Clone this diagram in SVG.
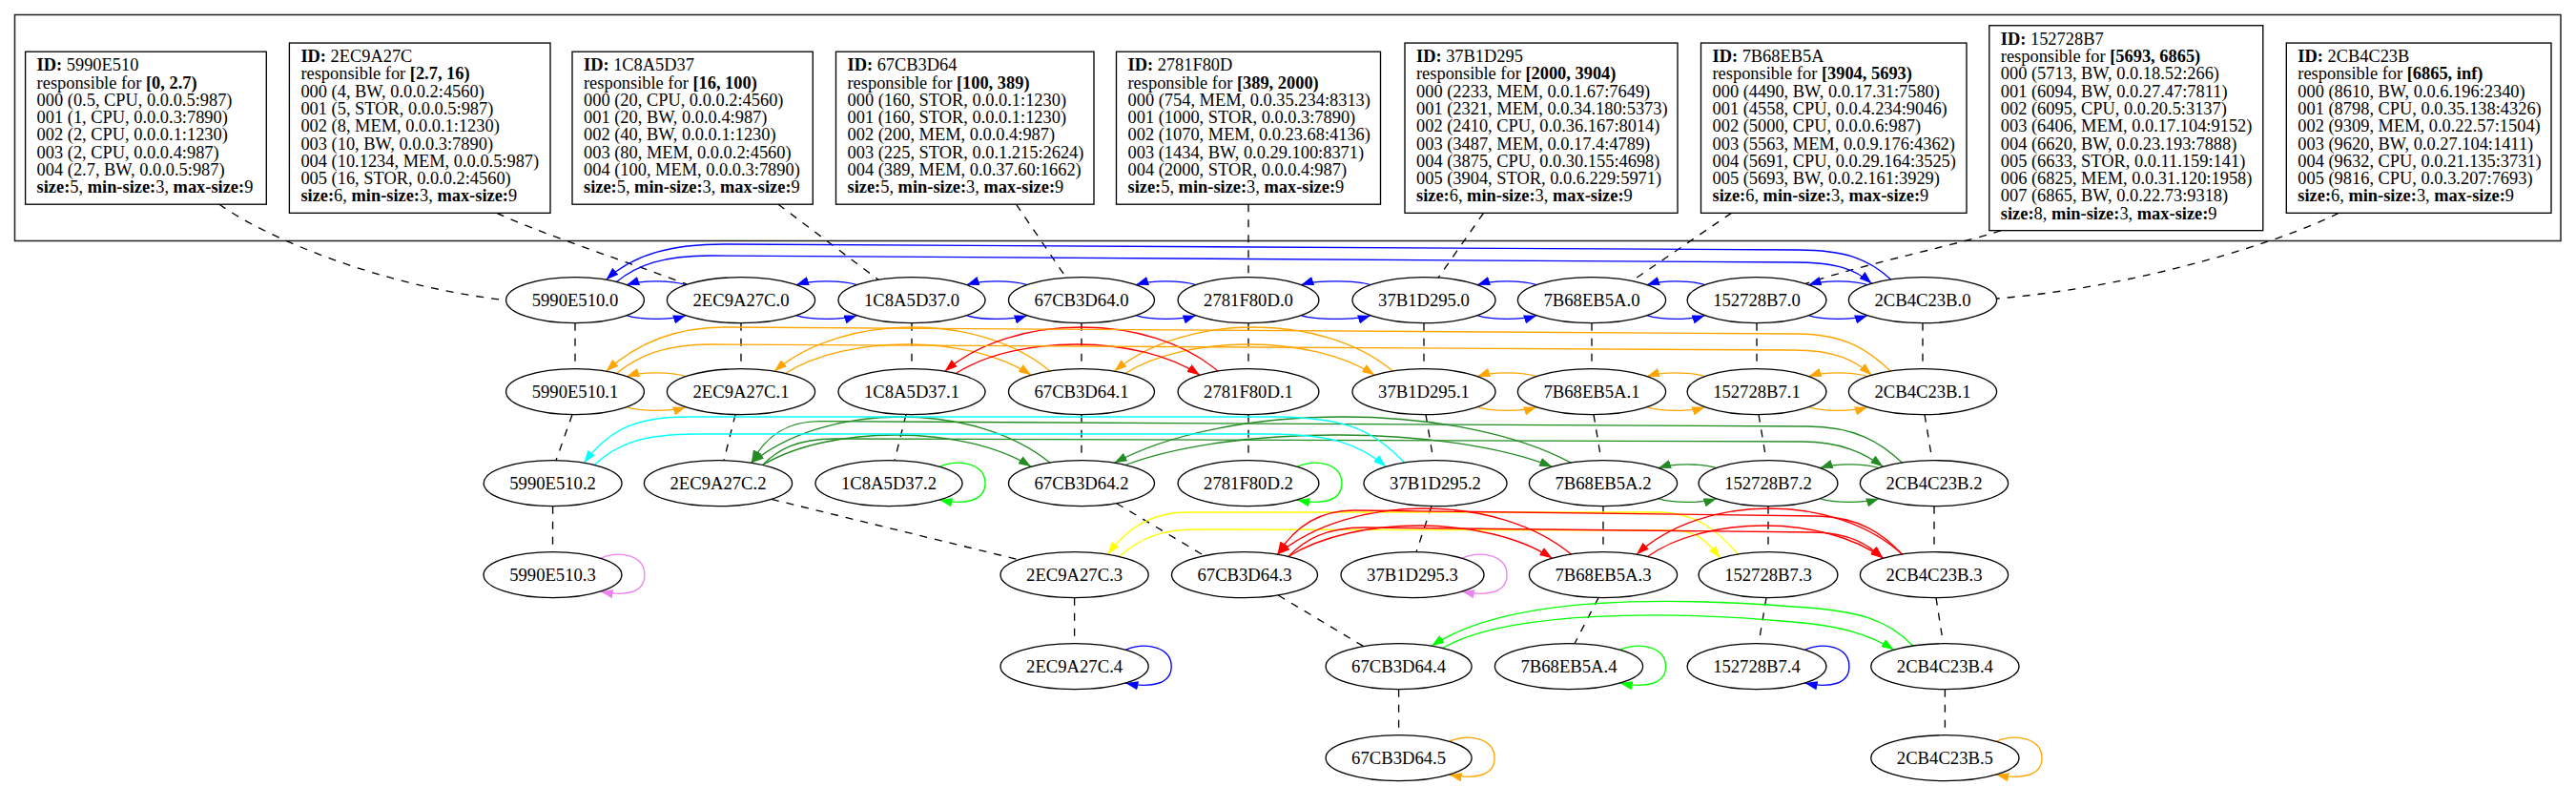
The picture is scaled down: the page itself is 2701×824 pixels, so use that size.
<svg xmlns="http://www.w3.org/2000/svg" width="2701" height="824" viewBox="0 0 2701 824">
<defs>
<style>
.cl{fill:none;stroke:#222;stroke-width:1.5}
.rec{fill:none;stroke:#000;stroke-width:1.33}
.rt{font-family:'Liberation Serif','Times New Roman',serif;font-size:18.4px;fill:#000}
.b{font-weight:bold}
.nd ellipse{fill:none;stroke:#000;stroke-width:1.33}
.nd text{font-family:'Liberation Serif','Times New Roman',serif;font-size:18.67px;text-anchor:middle;fill:#000}
.d{fill:none;stroke:#000;stroke-width:1.33;stroke-dasharray:8,8}
.e{fill:none;stroke-width:1.33}
.eb{stroke:#0000ff;marker-end:url(#ab)}
.eo{stroke:#ffa500;marker-end:url(#ao)}
.er{stroke:#ff0000;marker-end:url(#ar)}
.ec{stroke:#00ffff;marker-end:url(#ac)}
.eg{stroke:#228b22;marker-end:url(#ag)}
.el{stroke:#00ff00;marker-end:url(#al)}
.ey{stroke:#ffff00;marker-end:url(#ay)}
.ev{stroke:#ee82ee;marker-end:url(#av)}
</style>
<marker id="ab" viewBox="0 0 13.3 9.3" refX="13.3" refY="4.65" markerWidth="13.3" markerHeight="9.3" markerUnits="userSpaceOnUse" orient="auto"><path d="M0,0 L13.3,4.65 L0,9.3 Z" fill="#0000ff"/></marker>
<marker id="ao" viewBox="0 0 13.3 9.3" refX="13.3" refY="4.65" markerWidth="13.3" markerHeight="9.3" markerUnits="userSpaceOnUse" orient="auto"><path d="M0,0 L13.3,4.65 L0,9.3 Z" fill="#ffa500"/></marker>
<marker id="ar" viewBox="0 0 13.3 9.3" refX="13.3" refY="4.65" markerWidth="13.3" markerHeight="9.3" markerUnits="userSpaceOnUse" orient="auto"><path d="M0,0 L13.3,4.65 L0,9.3 Z" fill="#ff0000"/></marker>
<marker id="ac" viewBox="0 0 13.3 9.3" refX="13.3" refY="4.65" markerWidth="13.3" markerHeight="9.3" markerUnits="userSpaceOnUse" orient="auto"><path d="M0,0 L13.3,4.65 L0,9.3 Z" fill="#00ffff"/></marker>
<marker id="ag" viewBox="0 0 13.3 9.3" refX="13.3" refY="4.65" markerWidth="13.3" markerHeight="9.3" markerUnits="userSpaceOnUse" orient="auto"><path d="M0,0 L13.3,4.65 L0,9.3 Z" fill="#228b22"/></marker>
<marker id="al" viewBox="0 0 13.3 9.3" refX="13.3" refY="4.65" markerWidth="13.3" markerHeight="9.3" markerUnits="userSpaceOnUse" orient="auto"><path d="M0,0 L13.3,4.65 L0,9.3 Z" fill="#00ff00"/></marker>
<marker id="ay" viewBox="0 0 13.3 9.3" refX="13.3" refY="4.65" markerWidth="13.3" markerHeight="9.3" markerUnits="userSpaceOnUse" orient="auto"><path d="M0,0 L13.3,4.65 L0,9.3 Z" fill="#ffff00"/></marker>
<marker id="av" viewBox="0 0 13.3 9.3" refX="13.3" refY="4.65" markerWidth="13.3" markerHeight="9.3" markerUnits="userSpaceOnUse" orient="auto"><path d="M0,0 L13.3,4.65 L0,9.3 Z" fill="#ee82ee"/></marker>
</defs>
<rect width="2701" height="824" fill="#fff"/>
<g id="cluster"><rect class="cl" x="15.5" y="15.5" width="2669.5" height="237"/></g>

<g id="connectors">
<!-- dashed: boxes to level 0 -->
<path class="d" d="M230,214.2 C280,250 400,300 530.6,314.7"/>
<path class="d" d="M521,223.4 C560,242 650,272 720,297.8"/>
<path class="d" d="M816,214.2 L921,293.3"/>
<path class="d" d="M1065.5,214.2 L1118,291.2"/>
<path class="d" d="M1309,214.2 L1309,290.7"/>
<path class="d" d="M1555.5,223.4 L1508,291.2"/>
<path class="d" d="M1815.4,223.4 L1711,294.5"/>
<path class="d" d="M2098,241.6 C2060,255 1960,275 1893,297.5"/>
<path class="d" d="M2452,223.4 C2400,250 2250,300 2093.6,313"/>
<!-- dashed: level chains -->
<path class="d" d="M603,338.7 L603,386.7"/>
<path class="d" d="M600,434.7 L583,482.7"/>
<path class="d" d="M579.6,530.7 L579.5,578.7"/>
<path class="d" d="M777,338.7 L777,386.7"/>
<path class="d" d="M771,434.7 L759,482.7"/>
<path class="d" d="M808.9,523.4 L1068.4,586.8"/>
<path class="d" d="M1126.6,626.7 L1126.6,674.7"/>
<path class="d" d="M956,338.7 L956,386.7"/>
<path class="d" d="M950,434.7 L938,482.7"/>
<path class="d" d="M1134,338.7 L1134,386.7"/>
<path class="d" d="M1134,434.7 L1134,482.7"/>
<path class="d" d="M1170.7,527.7 L1262.9,582.7"/>
<path class="d" d="M1340.2,624 L1429.9,677.7"/>
<path class="d" d="M1466.6,722.7 L1466.6,770.7"/>
<path class="d" d="M1309,338.7 L1309,386.7"/>
<path class="d" d="M1309,434.7 L1309,482.7"/>
<path class="d" d="M1493,338.7 L1493,386.7"/>
<path class="d" d="M1495,434.7 L1503,482.7"/>
<path class="d" d="M1501,530.7 L1485,578.7"/>
<path class="d" d="M1669,338.7 L1669,386.7"/>
<path class="d" d="M1671,434.7 L1679,482.7"/>
<path class="d" d="M1681,530.7 L1681,578.7"/>
<path class="d" d="M1676,626.7 L1651,674.7"/>
<path class="d" d="M1842,338.7 L1842,386.7"/>
<path class="d" d="M1844,434.7 L1852,482.7"/>
<path class="d" d="M1854,530.7 L1854,578.7"/>
<path class="d" d="M1852,626.7 L1844,674.7"/>
<path class="d" d="M2016,338.7 L2016,386.7"/>
<path class="d" d="M2018,434.7 L2026,482.7"/>
<path class="d" d="M2028,530.7 L2028,578.7"/>
<path class="d" d="M2030,626.7 L2037.5,674.7"/>
<path class="d" d="M2039.4,722.7 L2039.4,770.7"/>

<!-- level 0 blue -->
<path class="e eb" d="M719.2,298.7 C704.2,293.7 671.9,293.7 656.9,298.7"/>
<path class="e eb" d="M656.9,330.7 C671.9,335.7 704.2,335.7 719.2,330.7"/>
<path class="e eb" d="M898.6,298.7 C883.6,293.7 849.8,293.7 834.8,298.7"/>
<path class="e eb" d="M834.8,330.7 C849.8,335.7 883.6,335.7 898.6,330.7"/>
<path class="e eb" d="M1077,298.7 C1062,293.7 1028.4,293.7 1013.4,298.7"/>
<path class="e eb" d="M1013.4,330.7 C1028.4,335.7 1062,335.7 1077,330.7"/>
<path class="e eb" d="M1253.9,298.7 C1238.9,293.7 1206,293.7 1191,298.7"/>
<path class="e eb" d="M1191,330.7 C1206,335.7 1238.9,335.7 1253.9,330.7"/>
<path class="e eb" d="M1437.1,298.7 C1422.1,293.7 1379.1,293.7 1364.1,298.7"/>
<path class="e eb" d="M1364.1,330.7 C1379.1,335.7 1422.1,335.7 1437.1,330.7"/>
<path class="e eb" d="M1611.2,298.7 C1596.2,293.7 1563.9,293.7 1548.9,298.7"/>
<path class="e eb" d="M1548.9,330.7 C1563.9,335.7 1596.2,335.7 1611.2,330.7"/>
<path class="e eb" d="M1787.7,298.7 C1772.7,293.7 1741.8,293.7 1726.8,298.7"/>
<path class="e eb" d="M1726.8,330.7 C1741.8,335.7 1772.7,335.7 1787.7,330.7"/>
<path class="e eb" d="M1958.2,298.7 C1943.2,293.7 1911.3,293.7 1896.3,298.7"/>
<path class="e eb" d="M1896.3,330.7 C1911.3,335.7 1943.2,335.7 1958.2,330.7"/>
<path class="e eb" d="M1982.6,293 C1960,272 1935,262 1885,262 L760,256 C705,256 665,266 635.6,293.3"/>
<path class="e eb" d="M646.4,295.5 C668,278 695,268 745,268 L1880,275 C1925,275 1945,282 1962.5,297.3"/>

<!-- level 1 orange / red -->
<path class="e eo" d="M719.2,394.7 C704.2,389.7 671.9,389.7 656.9,394.7"/>
<path class="e eo" d="M656.9,426.7 C671.9,431.7 704.2,431.7 719.2,426.7"/>
<path class="e eo" d="M1611.2,394.7 C1596.2,389.7 1563.9,389.7 1548.9,394.7"/>
<path class="e eo" d="M1548.9,426.7 C1563.9,431.7 1596.2,431.7 1611.2,426.7"/>
<path class="e eo" d="M1787.7,394.7 C1772.7,389.7 1741.8,389.7 1726.8,394.7"/>
<path class="e eo" d="M1726.8,426.7 C1741.8,431.7 1772.7,431.7 1787.7,426.7"/>
<path class="e eo" d="M1958.2,394.7 C1943.2,389.7 1911.3,389.7 1896.3,394.7"/>
<path class="e eo" d="M1896.3,426.7 C1911.3,431.7 1943.2,431.7 1958.2,426.7"/>
<path class="e eo" d="M1101.1,389.3 C1028.8,327.6 884.2,327.6 811.9,389.3"/>
<path class="e eo" d="M823.6,391.5 C888,350.5 1016.8,350.5 1081.2,393.3"/>
<path class="e eo" d="M1460.8,389.3 C1387.7,327.6 1241.5,327.6 1168.4,389.3"/>
<path class="e eo" d="M1179.9,391.5 C1245.2,350.5 1376,350.5 1441.3,393.3"/>
<path class="e er" d="M1277.2,389.3 C1205.6,327.6 1062.3,327.6 990.7,389.3"/>
<path class="e er" d="M1002.2,391.5 C1066.2,350.5 1194,350.5 1258,393.3"/>
<path class="e eo" d="M1982.6,389.3 C1960,368 1935,350 1885,350 L760,343 C705,343 665,362 635.6,389.3"/>
<path class="e eo" d="M646.4,391.5 C668,374 695,361 745,361 L1880,367 C1925,367 1945,378 1962.5,393.3"/>

<!-- level 2 cyan / green / lime loops -->
<path class="e eg" d="M1799.7,490.7 C1784.7,485.7 1753.8,485.7 1738.8,490.7"/>
<path class="e eg" d="M1738.8,522.7 C1753.8,527.7 1784.7,527.7 1799.7,522.7"/>
<path class="e eg" d="M1970.2,490.7 C1955.2,485.7 1923.3,485.7 1908.3,490.7"/>
<path class="e eg" d="M1908.3,522.7 C1923.3,527.7 1955.2,527.7 1970.2,522.7"/>
<path class="e eg" d="M1101.1,485.3 C1022.8,420.9 866.2,420.9 787.9,485.3"/>
<path class="e eg" d="M799.6,487.5 C870,445.2 1010.8,445.2 1081.2,489.3"/>
<path class="e eg" d="M1647.6,485.3 C1527.8,420.9 1288.2,420.9 1168.4,485.3"/>
<path class="e eg" d="M1179.9,487.5 C1291.8,445.2 1515.6,445.2 1627.5,489.3"/>
<path class="e eg" d="M1994.6,485.3 C1972,464 1945,447 1895,447 L860,441.7 C820,441.7 800,462 787.9,485.3"/>
<path class="e eg" d="M799.6,487.5 C815,472 835,460 875,460 L1890,463 C1930,463 1955,475 1974.5,489.3"/>
<path class="e ec" d="M1472.7,485.3 C1440,450 1410,438 1340,437 L720,437 C660,437 635,455 612.2,485.3"/>
<path class="e ec" d="M623,487.5 C645,467 670,455 730,455 L1330,455 C1395,455 1425,465 1453.2,489.3"/>
<path class="e el" d="M985.1,489.3 C1007.1,480.3 1033,486.7 1033,506.7 C1033,524.7 1013.1,529.7 985.1,524.1"/>
<path class="e el" d="M1360,489.3 C1382,480.3 1406.9,486.7 1406.9,506.7 C1406.9,524.7 1388,529.7 1360,524.1"/>

<!-- level 3 yellow / red / violet loops -->
<path class="e ey" d="M1822.7,581.3 C1800,556 1780,538 1740,537 L1245,537 C1205,537 1180,556 1161.5,581.3"/>
<path class="e ey" d="M1173.2,583.5 C1195,565 1215,555 1255,555 L1755,556 C1780,556 1792,570 1803.7,585.3"/>
<path class="e er" d="M1647.6,581.3 C1570.6,516.9 1416.4,516.9 1339.4,581.3"/>
<path class="e er" d="M1350.9,583.5 C1420.1,539.9 1558.4,539.9 1627.5,585.3"/>
<path class="e er" d="M1994.6,581.3 C1924.9,516.9 1785.6,516.9 1715.9,581.3"/>
<path class="e er" d="M1727.6,583.5 C1789.3,539.9 1912.8,539.9 1974.5,585.3"/>
<path class="e er" d="M1994.6,581.3 C1975,560 1950,542 1905,541 L1420,535 C1380,535 1355,556 1339.4,581.3"/>
<path class="e er" d="M1350.9,583.5 C1368,566 1390,553 1430,553 L1900,558 C1940,558 1960,572 1974.5,585.3"/>
<path class="e ev" d="M629.5,585.3 C651.5,576.3 675.9,582.7 675.9,602.7 C675.9,620.7 657.5,625.7 629.5,620.1"/>
<path class="e ev" d="M1532.8,585.3 C1554.8,576.3 1580,582.7 1580,602.7 C1580,620.7 1560.8,625.7 1532.8,620.1"/>

<!-- level 4 -->
<path class="e el" d="M2006,677.3 C1980,650 1950,640 1880,636 C1750,626 1580,624 1501,677.3"/>
<path class="e el" d="M1512.5,679.5 C1580,640 1750,640 1880,652 C1930,656 1960,665 1985.9,681.3"/>
<path class="e eb" d="M1180.1,681.3 C1202.1,672.3 1228.2,678.7 1228.2,698.7 C1228.2,716.7 1208.1,721.7 1180.1,716.1"/>
<path class="e el" d="M1698.5,681.3 C1720.5,672.3 1746.6,678.7 1746.6,698.7 C1746.6,716.7 1726.5,721.7 1698.5,716.1"/>
<path class="e eb" d="M1892.3,681.3 C1914.3,672.3 1938.9,678.7 1938.9,698.7 C1938.9,716.7 1920.3,721.7 1892.3,716.1"/>

<!-- level 5 -->
<path class="e eo" d="M1519.4,777.3 C1541.4,768.3 1567.1,774.7 1567.1,794.7 C1567.1,812.7 1547.4,817.7 1519.4,812.1"/>
<path class="e eo" d="M2092.9,777.3 C2114.9,768.3 2141,774.7 2141,794.7 C2141,812.7 2120.9,817.7 2092.9,812.1"/>
</g>

<!-- record nodes -->
<g id="rec-5990E510">
<rect class="rec" x="26.6" y="54.2" width="252.7" height="160"/>
<text class="rt" x="38.6" y="74.2"><tspan class="b">ID:</tspan> 5990E510</text>
<text class="rt" x="38.6" y="92.5">responsible for <tspan class="b">[0, 2.7)</tspan></text>
<text class="rt" x="38.6" y="110.8">000 (0.5, CPU, 0.0.0.5:987)</text>
<text class="rt" x="38.6" y="129.1">001 (1, CPU, 0.0.0.3:7890)</text>
<text class="rt" x="38.6" y="147.4">002 (2, CPU, 0.0.0.1:1230)</text>
<text class="rt" x="38.6" y="165.7">003 (2, CPU, 0.0.0.4:987)</text>
<text class="rt" x="38.6" y="184">004 (2.7, BW, 0.0.0.5:987)</text>
<text class="rt" x="38.6" y="202.3"><tspan class="b">size:</tspan>5, <tspan class="b">min-size:</tspan>3, <tspan class="b">max-size:</tspan>9</text>
</g>
<g id="rec-2EC9A27C">
<rect class="rec" x="303.4" y="45.05" width="273.6" height="178.3"/>
<text class="rt" x="315.4" y="65.05"><tspan class="b">ID:</tspan> 2EC9A27C</text>
<text class="rt" x="315.4" y="83.35">responsible for <tspan class="b">[2.7, 16)</tspan></text>
<text class="rt" x="315.4" y="101.65">000 (4, BW, 0.0.0.2:4560)</text>
<text class="rt" x="315.4" y="119.95">001 (5, STOR, 0.0.0.5:987)</text>
<text class="rt" x="315.4" y="138.25">002 (8, MEM, 0.0.0.1:1230)</text>
<text class="rt" x="315.4" y="156.55">003 (10, BW, 0.0.0.3:7890)</text>
<text class="rt" x="315.4" y="174.85">004 (10.1234, MEM, 0.0.0.5:987)</text>
<text class="rt" x="315.4" y="193.15">005 (16, STOR, 0.0.0.2:4560)</text>
<text class="rt" x="315.4" y="211.45"><tspan class="b">size:</tspan>6, <tspan class="b">min-size:</tspan>3, <tspan class="b">max-size:</tspan>9</text>
</g>
<g id="rec-1C8A5D37">
<rect class="rec" x="600" y="54.2" width="252.3" height="160"/>
<text class="rt" x="612" y="74.2"><tspan class="b">ID:</tspan> 1C8A5D37</text>
<text class="rt" x="612" y="92.5">responsible for <tspan class="b">[16, 100)</tspan></text>
<text class="rt" x="612" y="110.8">000 (20, CPU, 0.0.0.2:4560)</text>
<text class="rt" x="612" y="129.1">001 (20, BW, 0.0.0.4:987)</text>
<text class="rt" x="612" y="147.4">002 (40, BW, 0.0.0.1:1230)</text>
<text class="rt" x="612" y="165.7">003 (80, MEM, 0.0.0.2:4560)</text>
<text class="rt" x="612" y="184">004 (100, MEM, 0.0.0.3:7890)</text>
<text class="rt" x="612" y="202.3"><tspan class="b">size:</tspan>5, <tspan class="b">min-size:</tspan>3, <tspan class="b">max-size:</tspan>9</text>
</g>
<g id="rec-67CB3D64">
<rect class="rec" x="876.5" y="54.2" width="270.5" height="160"/>
<text class="rt" x="888.5" y="74.2"><tspan class="b">ID:</tspan> 67CB3D64</text>
<text class="rt" x="888.5" y="92.5">responsible for <tspan class="b">[100, 389)</tspan></text>
<text class="rt" x="888.5" y="110.8">000 (160, STOR, 0.0.0.1:1230)</text>
<text class="rt" x="888.5" y="129.1">001 (160, STOR, 0.0.0.1:1230)</text>
<text class="rt" x="888.5" y="147.4">002 (200, MEM, 0.0.0.4:987)</text>
<text class="rt" x="888.5" y="165.7">003 (225, STOR, 0.0.1.215:2624)</text>
<text class="rt" x="888.5" y="184">004 (389, MEM, 0.0.37.60:1662)</text>
<text class="rt" x="888.5" y="202.3"><tspan class="b">size:</tspan>5, <tspan class="b">min-size:</tspan>3, <tspan class="b">max-size:</tspan>9</text>
</g>
<g id="rec-2781F80D">
<rect class="rec" x="1170.5" y="54.2" width="277" height="160"/>
<text class="rt" x="1182.5" y="74.2"><tspan class="b">ID:</tspan> 2781F80D</text>
<text class="rt" x="1182.5" y="92.5">responsible for <tspan class="b">[389, 2000)</tspan></text>
<text class="rt" x="1182.5" y="110.8">000 (754, MEM, 0.0.35.234:8313)</text>
<text class="rt" x="1182.5" y="129.1">001 (1000, STOR, 0.0.0.3:7890)</text>
<text class="rt" x="1182.5" y="147.4">002 (1070, MEM, 0.0.23.68:4136)</text>
<text class="rt" x="1182.5" y="165.7">003 (1434, BW, 0.0.29.100:8371)</text>
<text class="rt" x="1182.5" y="184">004 (2000, STOR, 0.0.0.4:987)</text>
<text class="rt" x="1182.5" y="202.3"><tspan class="b">size:</tspan>5, <tspan class="b">min-size:</tspan>3, <tspan class="b">max-size:</tspan>9</text>
</g>
<g id="rec-37B1D295">
<rect class="rec" x="1473" y="45.05" width="286" height="178.3"/>
<text class="rt" x="1485" y="65.05"><tspan class="b">ID:</tspan> 37B1D295</text>
<text class="rt" x="1485" y="83.35">responsible for <tspan class="b">[2000, 3904)</tspan></text>
<text class="rt" x="1485" y="101.65">000 (2233, MEM, 0.0.1.67:7649)</text>
<text class="rt" x="1485" y="119.95">001 (2321, MEM, 0.0.34.180:5373)</text>
<text class="rt" x="1485" y="138.25">002 (2410, CPU, 0.0.36.167:8014)</text>
<text class="rt" x="1485" y="156.55">003 (3487, MEM, 0.0.17.4:4789)</text>
<text class="rt" x="1485" y="174.85">004 (3875, CPU, 0.0.30.155:4698)</text>
<text class="rt" x="1485" y="193.15">005 (3904, STOR, 0.0.6.229:5971)</text>
<text class="rt" x="1485" y="211.45"><tspan class="b">size:</tspan>6, <tspan class="b">min-size:</tspan>3, <tspan class="b">max-size:</tspan>9</text>
</g>
<g id="rec-7B68EB5A">
<rect class="rec" x="1783.5" y="45.05" width="278.5" height="178.3"/>
<text class="rt" x="1795.5" y="65.05"><tspan class="b">ID:</tspan> 7B68EB5A</text>
<text class="rt" x="1795.5" y="83.35">responsible for <tspan class="b">[3904, 5693)</tspan></text>
<text class="rt" x="1795.5" y="101.65">000 (4490, BW, 0.0.17.31:7580)</text>
<text class="rt" x="1795.5" y="119.95">001 (4558, CPU, 0.0.4.234:9046)</text>
<text class="rt" x="1795.5" y="138.25">002 (5000, CPU, 0.0.0.6:987)</text>
<text class="rt" x="1795.5" y="156.55">003 (5563, MEM, 0.0.9.176:4362)</text>
<text class="rt" x="1795.5" y="174.85">004 (5691, CPU, 0.0.29.164:3525)</text>
<text class="rt" x="1795.5" y="193.15">005 (5693, BW, 0.0.2.161:3929)</text>
<text class="rt" x="1795.5" y="211.45"><tspan class="b">size:</tspan>6, <tspan class="b">min-size:</tspan>3, <tspan class="b">max-size:</tspan>9</text>
</g>
<g id="rec-152728B7">
<rect class="rec" x="2085.8" y="26.75" width="287" height="214.9"/>
<text class="rt" x="2097.8" y="46.75"><tspan class="b">ID:</tspan> 152728B7</text>
<text class="rt" x="2097.8" y="65.05">responsible for <tspan class="b">[5693, 6865)</tspan></text>
<text class="rt" x="2097.8" y="83.35">000 (5713, BW, 0.0.18.52:266)</text>
<text class="rt" x="2097.8" y="101.65">001 (6094, BW, 0.0.27.47:7811)</text>
<text class="rt" x="2097.8" y="119.95">002 (6095, CPU, 0.0.20.5:3137)</text>
<text class="rt" x="2097.8" y="138.25">003 (6406, MEM, 0.0.17.104:9152)</text>
<text class="rt" x="2097.8" y="156.55">004 (6620, BW, 0.0.23.193:7888)</text>
<text class="rt" x="2097.8" y="174.85">005 (6633, STOR, 0.0.11.159:141)</text>
<text class="rt" x="2097.8" y="193.15">006 (6825, MEM, 0.0.31.120:1958)</text>
<text class="rt" x="2097.8" y="211.45">007 (6865, BW, 0.0.22.73:9318)</text>
<text class="rt" x="2097.8" y="229.75"><tspan class="b">size:</tspan>8, <tspan class="b">min-size:</tspan>3, <tspan class="b">max-size:</tspan>9</text>
</g>
<g id="rec-2CB4C23B">
<rect class="rec" x="2397.3" y="45.05" width="277.7" height="178.3"/>
<text class="rt" x="2409.3" y="65.05"><tspan class="b">ID:</tspan> 2CB4C23B</text>
<text class="rt" x="2409.3" y="83.35">responsible for <tspan class="b">[6865, inf)</tspan></text>
<text class="rt" x="2409.3" y="101.65">000 (8610, BW, 0.0.6.196:2340)</text>
<text class="rt" x="2409.3" y="119.95">001 (8798, CPU, 0.0.35.138:4326)</text>
<text class="rt" x="2409.3" y="138.25">002 (9309, MEM, 0.0.22.57:1504)</text>
<text class="rt" x="2409.3" y="156.55">003 (9620, BW, 0.0.27.104:1411)</text>
<text class="rt" x="2409.3" y="174.85">004 (9632, CPU, 0.0.21.135:3731)</text>
<text class="rt" x="2409.3" y="193.15">005 (9816, CPU, 0.0.3.207:7693)</text>
<text class="rt" x="2409.3" y="211.45"><tspan class="b">size:</tspan>6, <tspan class="b">min-size:</tspan>3, <tspan class="b">max-size:</tspan>9</text>
</g>

<!-- level nodes -->
<g id="n-5990E510-0" class="nd"><ellipse cx="603" cy="314.7" rx="72.4" ry="24"/><text x="603" y="321.2">5990E510.0</text></g>
<g id="n-2EC9A27C-0" class="nd"><ellipse cx="777" cy="314.7" rx="77.6" ry="24"/><text x="777" y="321.2">2EC9A27C.0</text></g>
<g id="n-1C8A5D37-0" class="nd"><ellipse cx="956" cy="314.7" rx="77" ry="24"/><text x="956" y="321.2">1C8A5D37.0</text></g>
<g id="n-67CB3D64-0" class="nd"><ellipse cx="1134" cy="314.7" rx="76.5" ry="24"/><text x="1134" y="321.2">67CB3D64.0</text></g>
<g id="n-2781F80D-0" class="nd"><ellipse cx="1309" cy="314.7" rx="73.9" ry="24"/><text x="1309" y="321.2">2781F80D.0</text></g>
<g id="n-37B1D295-0" class="nd"><ellipse cx="1493" cy="314.7" rx="75" ry="24"/><text x="1493" y="321.2">37B1D295.0</text></g>
<g id="n-7B68EB5A-0" class="nd"><ellipse cx="1669" cy="314.7" rx="77.6" ry="24"/><text x="1669" y="321.2">7B68EB5A.0</text></g>
<g id="n-152728B7-0" class="nd"><ellipse cx="1842" cy="314.7" rx="72.9" ry="24"/><text x="1842" y="321.2">152728B7.0</text></g>
<g id="n-2CB4C23B-0" class="nd"><ellipse cx="2016" cy="314.7" rx="77.6" ry="24"/><text x="2016" y="321.2">2CB4C23B.0</text></g>

<g id="n-5990E510-1" class="nd"><ellipse cx="603" cy="410.7" rx="72.4" ry="24"/><text x="603" y="417.2">5990E510.1</text></g>
<g id="n-2EC9A27C-1" class="nd"><ellipse cx="777" cy="410.7" rx="77.6" ry="24"/><text x="777" y="417.2">2EC9A27C.1</text></g>
<g id="n-1C8A5D37-1" class="nd"><ellipse cx="956" cy="410.7" rx="77" ry="24"/><text x="956" y="417.2">1C8A5D37.1</text></g>
<g id="n-67CB3D64-1" class="nd"><ellipse cx="1134" cy="410.7" rx="76.5" ry="24"/><text x="1134" y="417.2">67CB3D64.1</text></g>
<g id="n-2781F80D-1" class="nd"><ellipse cx="1309" cy="410.7" rx="73.9" ry="24"/><text x="1309" y="417.2">2781F80D.1</text></g>
<g id="n-37B1D295-1" class="nd"><ellipse cx="1493" cy="410.7" rx="75" ry="24"/><text x="1493" y="417.2">37B1D295.1</text></g>
<g id="n-7B68EB5A-1" class="nd"><ellipse cx="1669" cy="410.7" rx="77.6" ry="24"/><text x="1669" y="417.2">7B68EB5A.1</text></g>
<g id="n-152728B7-1" class="nd"><ellipse cx="1842" cy="410.7" rx="72.9" ry="24"/><text x="1842" y="417.2">152728B7.1</text></g>
<g id="n-2CB4C23B-1" class="nd"><ellipse cx="2016" cy="410.7" rx="77.6" ry="24"/><text x="2016" y="417.2">2CB4C23B.1</text></g>

<g id="n-5990E510-2" class="nd"><ellipse cx="579.6" cy="506.7" rx="72.4" ry="24"/><text x="579.6" y="513.2">5990E510.2</text></g>
<g id="n-2EC9A27C-2" class="nd"><ellipse cx="753" cy="506.7" rx="77.6" ry="24"/><text x="753" y="513.2">2EC9A27C.2</text></g>
<g id="n-1C8A5D37-2" class="nd"><ellipse cx="932" cy="506.7" rx="77" ry="24"/><text x="932" y="513.2">1C8A5D37.2</text></g>
<g id="n-67CB3D64-2" class="nd"><ellipse cx="1134" cy="506.7" rx="76.5" ry="24"/><text x="1134" y="513.2">67CB3D64.2</text></g>
<g id="n-2781F80D-2" class="nd"><ellipse cx="1309" cy="506.7" rx="73.9" ry="24"/><text x="1309" y="513.2">2781F80D.2</text></g>
<g id="n-37B1D295-2" class="nd"><ellipse cx="1505" cy="506.7" rx="75" ry="24"/><text x="1505" y="513.2">37B1D295.2</text></g>
<g id="n-7B68EB5A-2" class="nd"><ellipse cx="1681" cy="506.7" rx="77.6" ry="24"/><text x="1681" y="513.2">7B68EB5A.2</text></g>
<g id="n-152728B7-2" class="nd"><ellipse cx="1854" cy="506.7" rx="72.9" ry="24"/><text x="1854" y="513.2">152728B7.2</text></g>
<g id="n-2CB4C23B-2" class="nd"><ellipse cx="2028" cy="506.7" rx="77.6" ry="24"/><text x="2028" y="513.2">2CB4C23B.2</text></g>

<g id="n-5990E510-3" class="nd"><ellipse cx="579.5" cy="602.7" rx="72.4" ry="24"/><text x="579.5" y="609.2">5990E510.3</text></g>
<g id="n-2EC9A27C-3" class="nd"><ellipse cx="1126.6" cy="602.7" rx="77.6" ry="24"/><text x="1126.6" y="609.2">2EC9A27C.3</text></g>
<g id="n-67CB3D64-3" class="nd"><ellipse cx="1305" cy="602.7" rx="76.5" ry="24"/><text x="1305" y="609.2">67CB3D64.3</text></g>
<g id="n-37B1D295-3" class="nd"><ellipse cx="1481" cy="602.7" rx="75" ry="24"/><text x="1481" y="609.2">37B1D295.3</text></g>
<g id="n-7B68EB5A-3" class="nd"><ellipse cx="1681" cy="602.7" rx="77.6" ry="24"/><text x="1681" y="609.2">7B68EB5A.3</text></g>
<g id="n-152728B7-3" class="nd"><ellipse cx="1854" cy="602.7" rx="72.9" ry="24"/><text x="1854" y="609.2">152728B7.3</text></g>
<g id="n-2CB4C23B-3" class="nd"><ellipse cx="2028" cy="602.7" rx="77.6" ry="24"/><text x="2028" y="609.2">2CB4C23B.3</text></g>

<g id="n-2EC9A27C-4" class="nd"><ellipse cx="1126.6" cy="698.7" rx="77.6" ry="24"/><text x="1126.6" y="705.2">2EC9A27C.4</text></g>
<g id="n-67CB3D64-4" class="nd"><ellipse cx="1466.6" cy="698.7" rx="76.5" ry="24"/><text x="1466.6" y="705.2">67CB3D64.4</text></g>
<g id="n-7B68EB5A-4" class="nd"><ellipse cx="1645" cy="698.7" rx="77.6" ry="24"/><text x="1645" y="705.2">7B68EB5A.4</text></g>
<g id="n-152728B7-4" class="nd"><ellipse cx="1842" cy="698.7" rx="72.9" ry="24"/><text x="1842" y="705.2">152728B7.4</text></g>
<g id="n-2CB4C23B-4" class="nd"><ellipse cx="2039.4" cy="698.7" rx="77.6" ry="24"/><text x="2039.4" y="705.2">2CB4C23B.4</text></g>

<g id="n-67CB3D64-5" class="nd"><ellipse cx="1466.6" cy="794.7" rx="76.5" ry="24"/><text x="1466.6" y="801.2">67CB3D64.5</text></g>
<g id="n-2CB4C23B-5" class="nd"><ellipse cx="2039.4" cy="794.7" rx="77.6" ry="24"/><text x="2039.4" y="801.2">2CB4C23B.5</text></g>
</svg>
